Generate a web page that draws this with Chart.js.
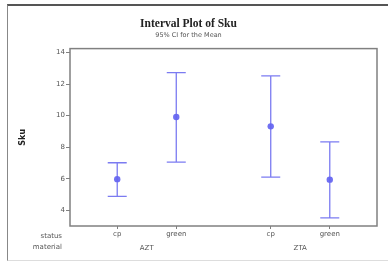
<!DOCTYPE html>
<html>
<head>
<meta charset="utf-8">
<script src="https://cdn.jsdelivr.net/npm/chart.js@4"></script>
<style>
  html, body { margin: 0; padding: 0; background: #fff; }
  #wrap { position: relative; width: 388px; height: 261px; }
  #frame {
    position: absolute; left: 7px; top: 4px; width: 400px; height: 254px;
    border-top: 2px solid #555; border-left: 1px solid #888; border-bottom: 1px solid #ddd;
    pointer-events: none;
  }
</style>
</head>
<body>
<div id="wrap">
  <canvas id="chart" width="388" height="261"></canvas>
  <div id="frame"></div>
</div>
<script>
// Minitab-style interval plot: mean with 95% CI per status within material
const statusLabels = ["cp", "green", "cp", "green"];
const materialLabels = ["AZT", "ZTA"];
const xPos = [1, 2, 3.6, 4.6];          // group gap like Minitab
const materialPos = [1.5, 4.1];
const means = [5.97, 9.91, 9.32, 5.94];
const ciLow = [4.88, 7.05, 6.10, 3.51];
const ciHigh = [7.01, 12.73, 12.52, 8.33];
const yTicks = [4, 6, 8, 10, 12, 14];

const BLUE = "rgba(100, 100, 238, 0.85)";
const DOT = "#7070f2";
const TXT = "#555";

// error bars + plot frame, placed through the chart's own scales
const intervalPlugin = {
    id: "intervals",
    afterDatasetsDraw(chart) {
        const { ctx, scales: { x, y }, chartArea: a } = chart;
        ctx.save();
        ctx.strokeStyle = BLUE;
        ctx.lineWidth = 1.3;
        xPos.forEach((v, i) => {
            const px = x.getPixelForValue(v);
            const top = y.getPixelForValue(ciHigh[i]);
            const bot = y.getPixelForValue(ciLow[i]);
            ctx.beginPath();
            ctx.moveTo(px, top); ctx.lineTo(px, bot);
            ctx.moveTo(px - 9.5, top); ctx.lineTo(px + 9.5, top);
            ctx.moveTo(px - 9.5, bot); ctx.lineTo(px + 9.5, bot);
            ctx.stroke();
        });
        ctx.strokeStyle = "#808080";
        ctx.lineWidth = 1.5;
        ctx.strokeRect(a.left, a.top, a.right - a.left, a.bottom - a.top);
        // row headers for the two-level x axis
        ctx.fillStyle = TXT;
        ctx.font = "7px 'DejaVu Sans'";
        ctx.textAlign = "right";
        ctx.textBaseline = "middle";
        ctx.fillText("status", 62, 236);
        ctx.fillText("material", 62, 247);
        ctx.restore();
    },
};

new Chart(document.getElementById("chart"), {
    type: "scatter",
    data: {
        datasets: [{
            data: xPos.map((v, i) => ({ x: v, y: means[i] })),
            pointRadius: 3.2,
            pointBackgroundColor: DOT,
            pointBorderColor: DOT,
            pointBorderWidth: 0,
        }],
    },
    options: {
        responsive: false,
        animation: false,
        layout: { padding: { left: 0, right: 11, top: 0, bottom: 0 } },
        plugins: {
            legend: { display: false },
            tooltip: { enabled: false },
            title: {
                display: true,
                text: "Interval Plot of Sku",
                color: "#222",
                font: { family: "'Liberation Serif'", size: 11.5, weight: "bold" },
                padding: { top: 17, bottom: 1 },
            },
            subtitle: {
                display: true,
                text: "95% CI for the Mean",
                color: TXT,
                font: { family: "'DejaVu Sans'", size: 6.5 },
                padding: { top: 0, bottom: 9 },
            },
        },
        scales: {
            x: {
                type: "linear",
                min: 0.2,
                max: 5.4,
                afterBuildTicks: (s) => { s.ticks = xPos.map((v) => ({ value: v })); },
                afterFit: (s) => { s.height = 17; },
                ticks: {
                    callback: (v) => statusLabels[xPos.indexOf(v)],
                    color: TXT,
                    font: { family: "'DejaVu Sans'", size: 7 },
                    padding: 1,
                    maxRotation: 0,
                    autoSkip: false,
                },
                grid: { display: true, drawOnChartArea: false, tickLength: 3, color: "#808080" },
                border: { display: false },
            },
            x2: {
                type: "linear",
                position: "bottom",
                min: 0.2,
                max: 5.4,
                afterBuildTicks: (s) => { s.ticks = materialPos.map((v) => ({ value: v })); },
                afterFit: (s) => { s.height = 18; },
                ticks: {
                    callback: (v) => materialLabels[materialPos.indexOf(v)],
                    color: TXT,
                    font: { family: "'DejaVu Sans'", size: 7 },
                    padding: 1,
                    maxRotation: 0,
                    autoSkip: false,
                },
                grid: { display: false, drawTicks: false },
                border: { display: false },
            },
            y: {
                min: 3.0,
                max: 14.25,
                afterBuildTicks: (s) => { s.ticks = yTicks.map((v) => ({ value: v })); },
                afterFit: (s) => { s.width = 70; },
                ticks: {
                    color: TXT,
                    font: { family: "'DejaVu Sans'", size: 7 },
                    padding: 1,
                },
                grid: { display: true, drawOnChartArea: false, tickLength: 4, color: "#808080" },
                border: { display: false },
                title: {
                    display: true,
                    text: "Sku",
                    color: "#222",
                    font: { family: "'DejaVu Sans'", size: 8, weight: "bold" },
                    padding: { top: 18, bottom: 0 },
                },
            },
        },
    },
    plugins: [intervalPlugin],
});
</script>
</body>
</html>
